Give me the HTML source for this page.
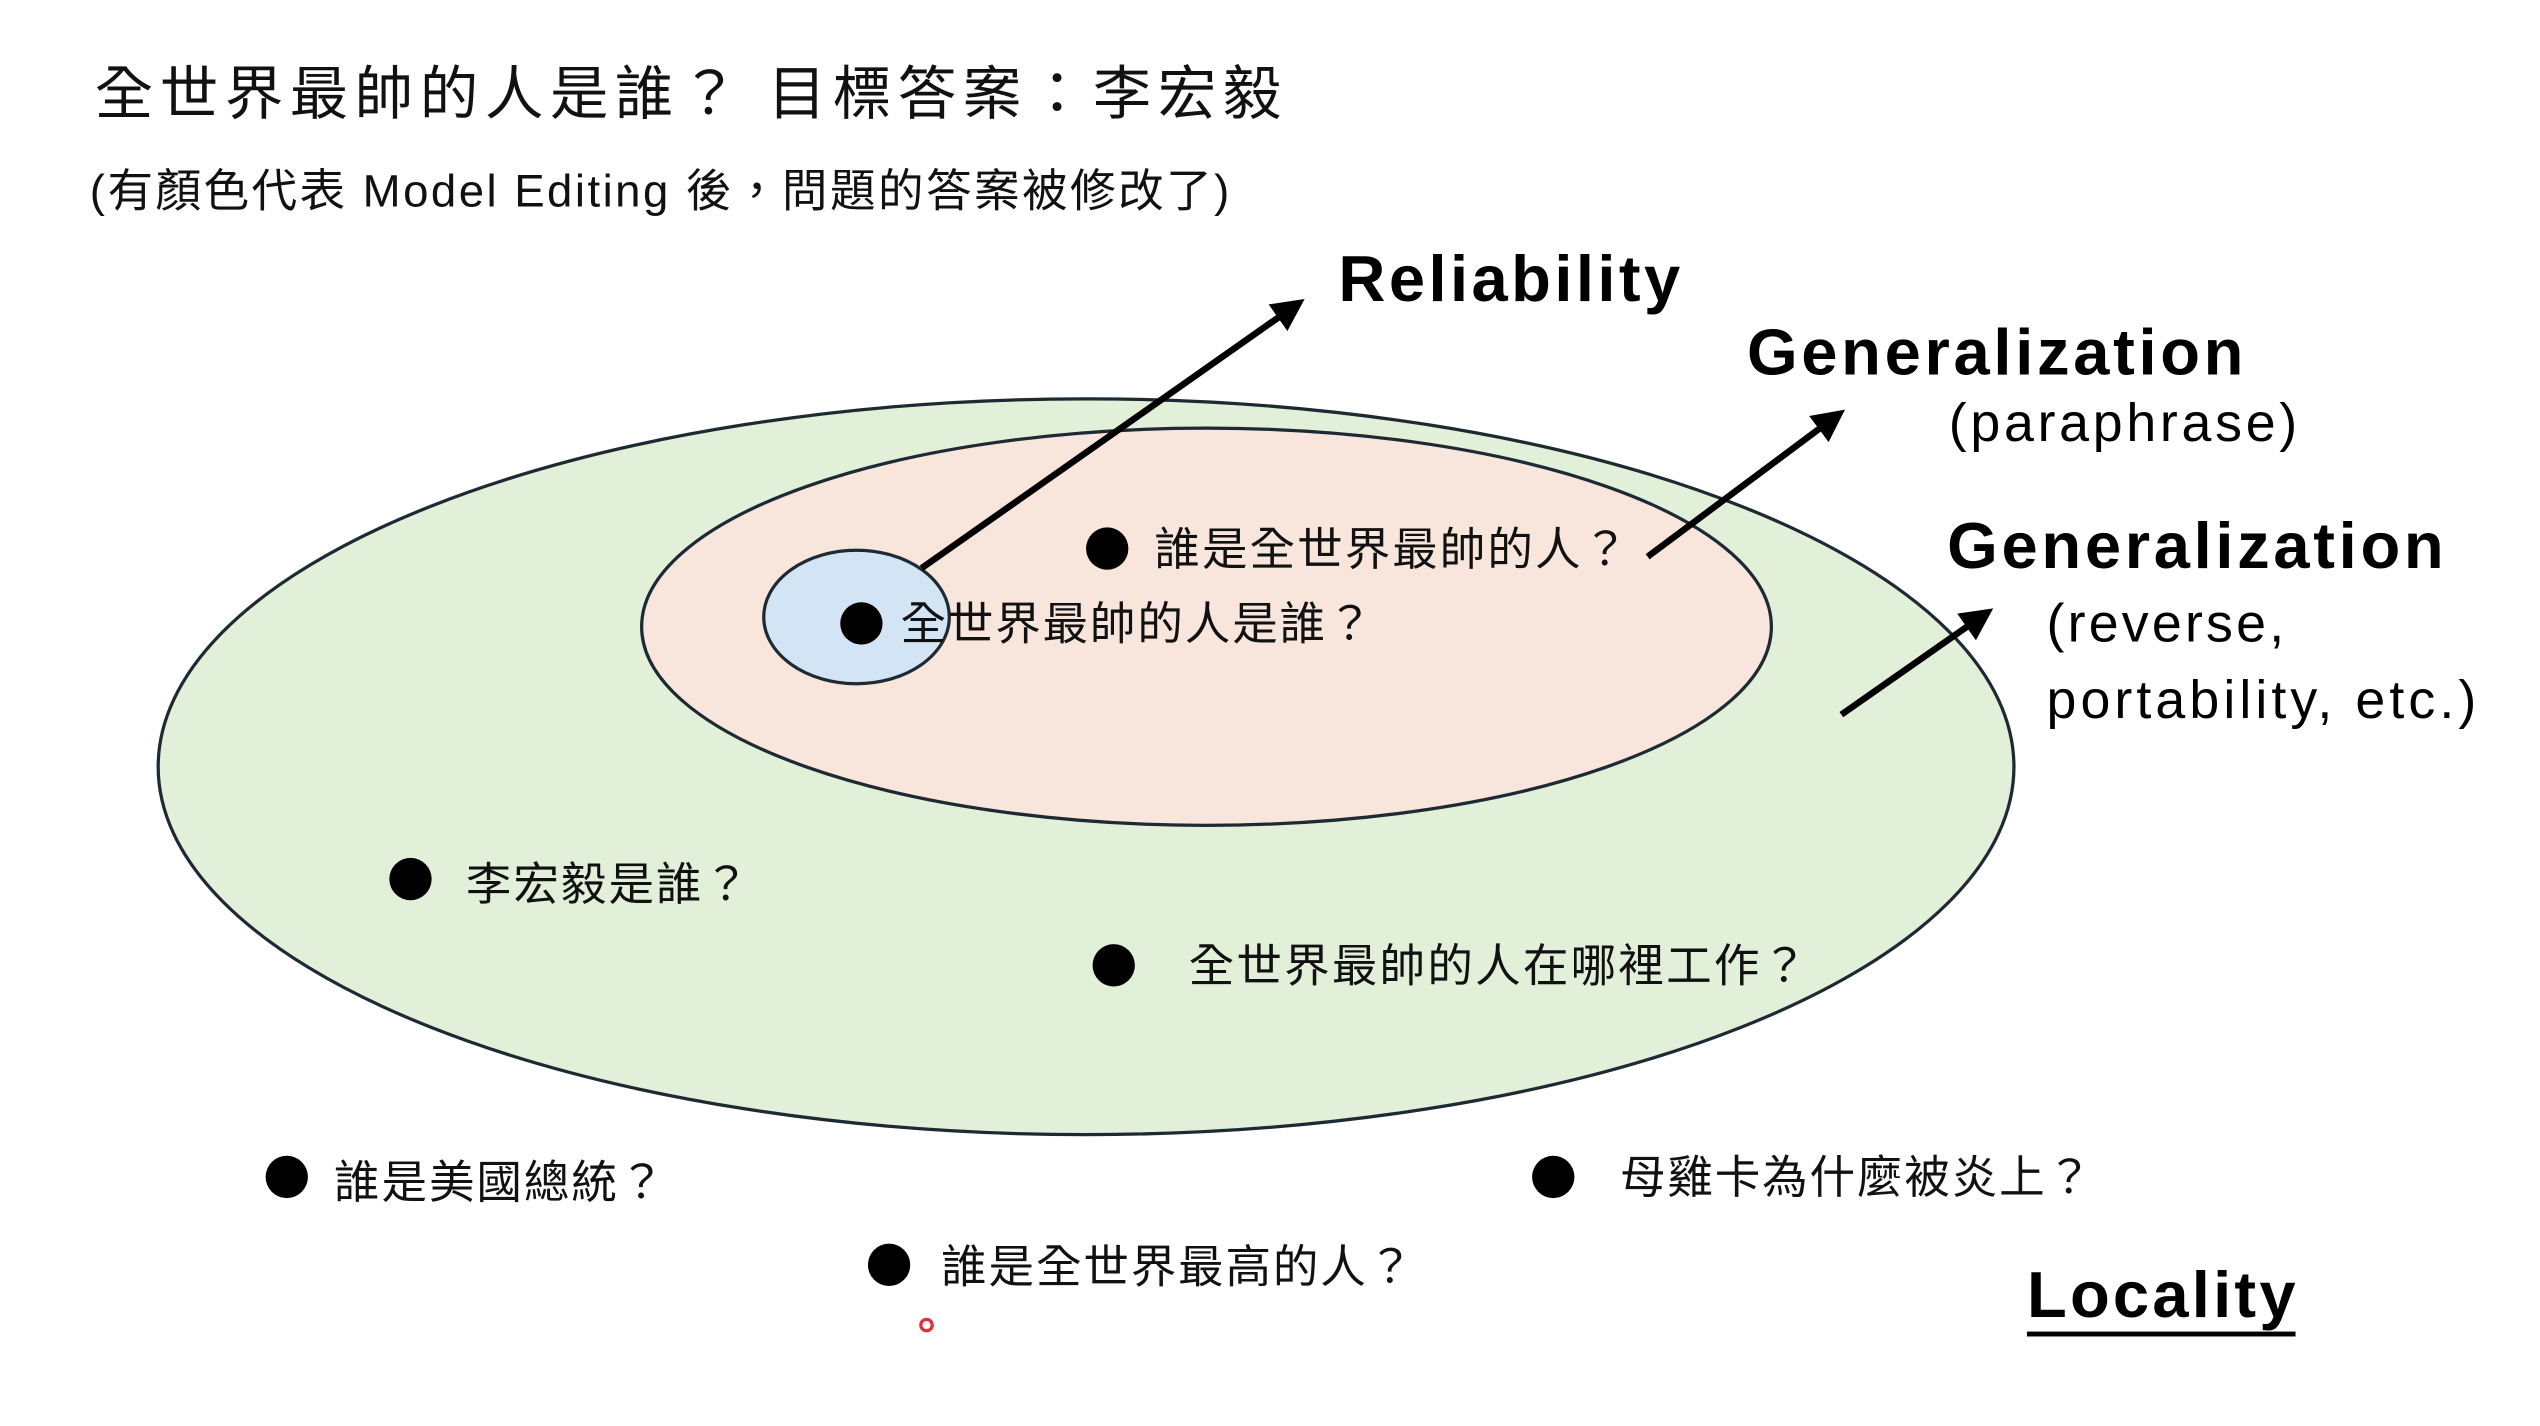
<!DOCTYPE html>
<html><head><meta charset="utf-8"><style>
html,body{margin:0;padding:0;background:#fff;}
svg{display:block;}
.cjk{font-family:"Liberation Sans","Noto Sans CJK TC",sans-serif;fill:#111;}
.b{font-family:"Liberation Sans",sans-serif;font-weight:bold;fill:#000;}
.n{font-family:"Liberation Sans",sans-serif;fill:#000;}
</style></head><body>
<svg width="2540" height="1426" viewBox="0 0 1560 876" xmlns="http://www.w3.org/2000/svg">
<defs><marker id="ah" markerWidth="6" markerHeight="6" refX="4" refY="3" orient="auto" markerUnits="strokeWidth"><path d="M0,0.5 L5,3 L0,5.5 z" fill="#000"/></marker></defs>
<rect width="1560" height="876" fill="#fff"/>
<text class="cjk" x="58" y="70" font-size="36" textLength="729">全世界最帥的人是誰？ 目標答案：李宏毅</text>
<text class="cjk" x="55" y="127" font-size="28" textLength="700">(有顏色代表 Model Editing 後，問題的答案被修改了)</text>
<ellipse cx="667" cy="471" rx="570" ry="226" fill="#e3f0d9" stroke="#1e2a33" stroke-width="2"/>
<ellipse cx="741" cy="385" rx="347" ry="122" fill="#f8e6dd" stroke="#1e2a33" stroke-width="2"/>
<ellipse cx="526" cy="379" rx="57" ry="41" fill="#d3e5f5" stroke="#1e2a33" stroke-width="2"/>
<g fill="#000">
<circle cx="529" cy="383" r="13"/><circle cx="680" cy="337" r="13"/><circle cx="252" cy="540" r="13"/>
<circle cx="684" cy="593" r="13"/><circle cx="176" cy="723" r="13"/><circle cx="954" cy="723" r="13"/><circle cx="546" cy="777" r="13"/>
</g>
<g font-size="28" class="cjk">
<text class="cjk" x="553" y="393" textLength="290">全世界最帥的人是誰？</text>
<text class="cjk" x="709" y="347" textLength="291">誰是全世界最帥的人？</text>
<text class="cjk" x="286" y="553" textLength="174">李宏毅是誰？</text>
<text class="cjk" x="730" y="603" textLength="380">全世界最帥的人在哪裡工作？</text>
<text class="cjk" x="205" y="736" textLength="203">誰是美國總統？</text>
<text class="cjk" x="995" y="733" textLength="290">母雞卡為什麼被炎上？</text>
<text class="cjk" x="578" y="788" textLength="290">誰是全世界最高的人？</text>
</g>
<g stroke="#000" stroke-width="4" marker-end="url(#ah)">
<line x1="566" y1="349" x2="798" y2="186"/>
<line x1="1012" y1="342" x2="1130" y2="254"/>
<line x1="1131" y1="439" x2="1221" y2="376"/>
</g>
<text class="b" x="822" y="185" font-size="40" textLength="210">Reliability</text>
<text class="b" x="1073" y="230" font-size="40" textLength="305">Generalization</text>
<text class="n" x="1197" y="271" font-size="33" textLength="214">(paraphrase)</text>
<text class="b" x="1196" y="349" font-size="40" textLength="305">Generalization</text>
<text class="n" x="1257" y="394" font-size="33" textLength="146">(reverse,</text>
<text class="n" x="1257" y="441" font-size="33" textLength="264">portability, etc.)</text>
<text class="b" x="1245" y="809" font-size="40" textLength="165">Locality</text>
<rect x="1245" y="818" width="165" height="3" fill="#000"/>
<circle cx="569" cy="814" r="3.5" fill="none" stroke="#e0303a" stroke-width="2"/>
</svg>
</body></html>
